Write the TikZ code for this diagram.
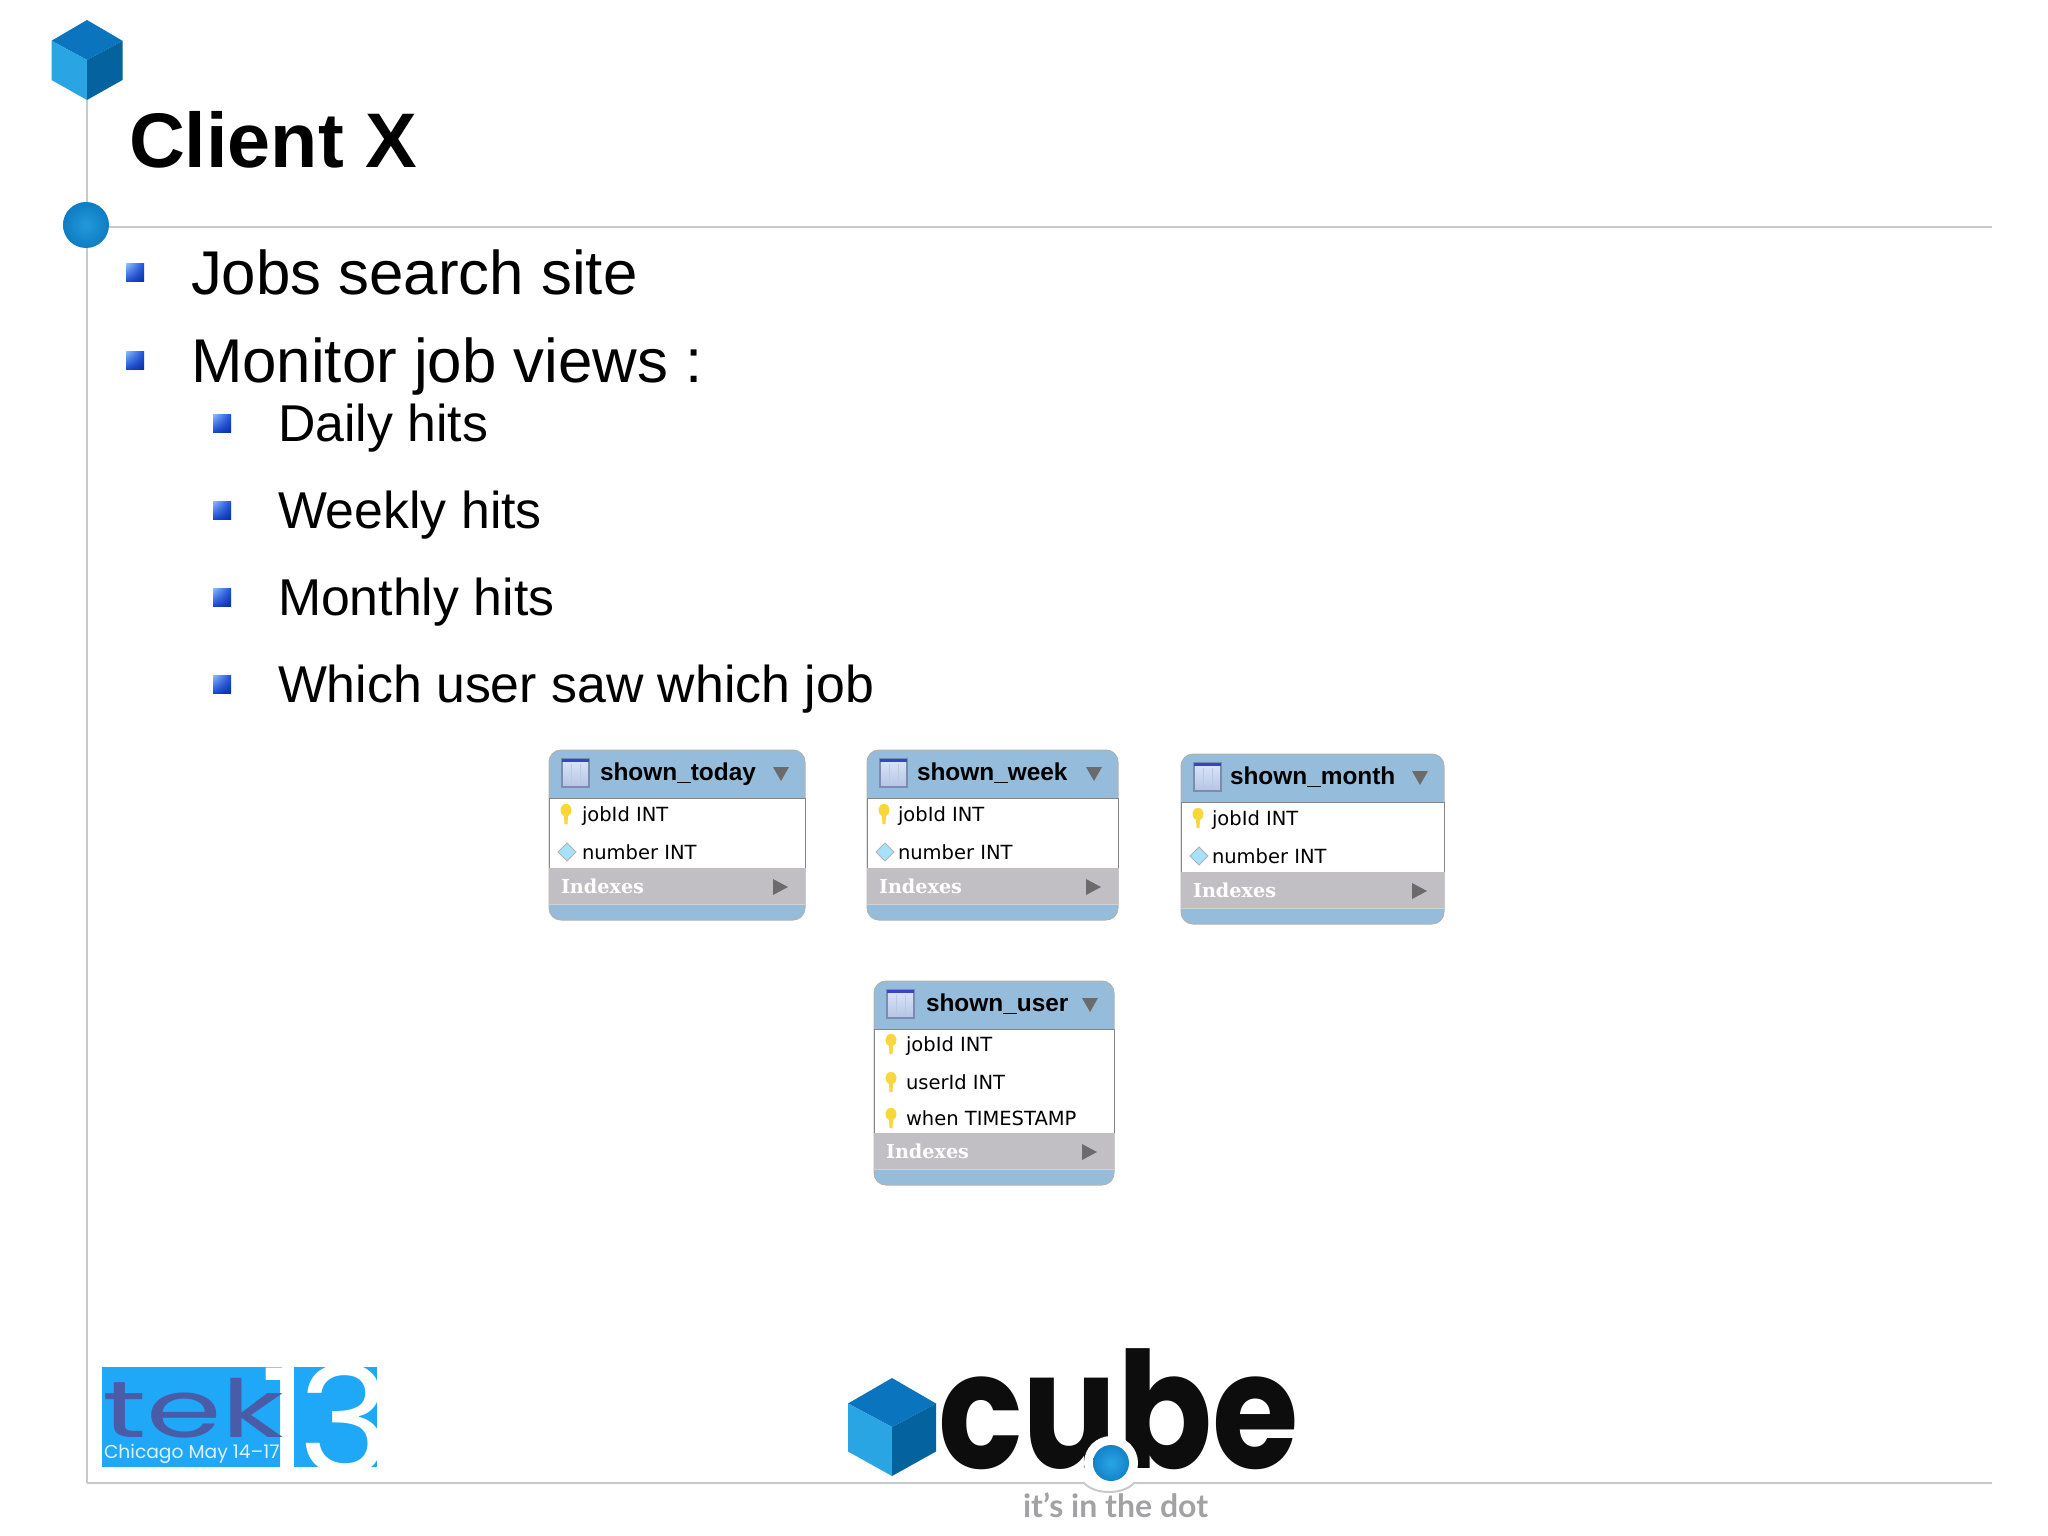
\documentclass[tikz,border=0pt]{standalone}
\usepackage{fontspec}
\usepackage{graphicx}
\usetikzlibrary{shadings}
\setmainfont{Liberation Sans}
\newfontfamily\dvsans{DejaVu Sans}
\newfontfamily\dvserif{DejaVu Serif}
\newfontfamily\popp{Poppins}
\newfontfamily\latof{Lato}
\definecolor{rule}{HTML}{C9C9C9}
\definecolor{hdr}{HTML}{95BCDA}
\definecolor{grayband}{HTML}{C1BFC3}
\definecolor{tri}{HTML}{6B6B6B}
\definecolor{keyy}{HTML}{F9D63A}
\definecolor{cubeT}{HTML}{0A75BE}
\definecolor{cubeL}{HTML}{2AA5E3}
\definecolor{cubeR}{HTML}{04639F}
\definecolor{tekbg}{HTML}{1FA8F7}
\definecolor{tekfg}{HTML}{4A5BA8}
\definecolor{tagg}{HTML}{A2A2A4}
\definecolor{bulA}{HTML}{8FC0FA}
\definecolor{bulB}{HTML}{1A50E0}
\definecolor{bulC}{HTML}{1648D8}
\definecolor{bulD}{HTML}{0A2FA0}
\definecolor{icoT}{HTML}{DCE6F8}
\definecolor{icoB}{HTML}{B4C4E4}
\definecolor{icoE}{HTML}{7C8CB0}
\definecolor{icoC}{HTML}{BBC8E2}
\definecolor{icoH}{HTML}{3346C4}
\definecolor{bodyE}{HTML}{858585}
\tikzset{
  txt/.style={inner sep=0pt,outer sep=0pt,anchor=base west},
  rulel/.style={draw=rule,line width=1pt},
  h1/.style={txt,font=\fontsize{38.7}{44}\selectfont\bfseries},
  l1/.style={txt,font=\fontsize{30.9}{36}\selectfont},
  l2/.style={txt,font=\fontsize{25.9}{30}\selectfont},
  ertitle/.style={txt,font=\fontsize{12.2}{14}\selectfont\bfseries,text=black},
  errowt/.style={txt,font=\dvsans\fontsize{9.75}{11}\selectfont,text=black},
  erindex/.style={txt,font=\dvserif\fontsize{9.6}{11}\selectfont\bfseries,text=white}
}
\newcommand\cubeicon[4]{% cx, top, halfw, h
  \begin{scope}[shift={(#1,#2)},xscale=#3,yscale=#4]
    \fill[cubeT] (0,0) -- (1,.26) -- (0,.5) -- (-1,.26) -- cycle;
    \fill[cubeL] (-1,.26) -- (0,.5) -- (0,1) -- (-1,.75) -- cycle;
    \fill[cubeR] (1,.26) -- (0,.5) -- (0,1) -- (1,.75) -- cycle;
  \end{scope}}
\newcommand\bulletsq[2]{%
  \shade[upper left=bulA,upper right=bulB,lower left=bulC,lower right=bulD]
    (#1-9,#2-9) rectangle (#1+9,#2+9);}
\newcommand\ertable[5]{% id, w, bodyh, titlex, title
  \fill[hdr,draw=gray!60,line width=.5pt,rounded corners=6pt] (0,0) rectangle (#2,#3+48+36+16);
  \fill[white] (0,48) rectangle (#2,48+#3);
  \fill[grayband] (0,48+#3) rectangle (#2,48+#3+36);
  \draw[bodyE,line width=.5pt] (0,48) -- (#2,48) (0,48) -- (0,48+#3) (#2,48) -- (#2,48+#3);
  \draw[gray!50,line width=.5pt] (0,48+#3) -- (#2,48+#3);
  \draw[gray!35,line width=.5pt] (0,48+#3+36) -- (#2,48+#3+36);
  \shade[top color=icoT,bottom color=icoB,draw=icoE,line width=.6pt] (13,9) rectangle (40,37);
  \fill[icoH] (13,9) rectangle (40,12);
  \draw[icoC,line width=.5pt] (22,14) -- (22,36) (31,14) -- (31,36);
  \node[ertitle] (#1title) at (#4,30) {#5};
  \fill[tri] (#2-32,17) -- (#2-16,17) -- (#2-24,31) -- cycle;
  \node[erindex] (#1index) at (12,48+#3+25) {Indexes};
  \fill[tri] (#2-32,48+#3+11) -- (#2-17,48+#3+19) -- (#2-32,48+#3+27) -- cycle;
}
\newcommand\erkey[1]{%
  \fill[keyy] (17,#1-17) .. controls (10,#1-17) and (10,#1-7) .. (15,#1-5) -- (15.5,#1+3) -- (18.5,#1+3) -- (19,#1-5) .. controls (24,#1-7) and (24,#1-17) .. (17,#1-17) -- cycle;}
\newcommand\erdiam[1]{%
  \fill[cyan!35!white,draw=gray!60,line width=.4pt] (18,#1-16) -- (27,#1-7) -- (18,#1+2) -- (9,#1-7) -- cycle;}
\begin{document}
\begin{tikzpicture}[x=.5pt,y=-.5pt]
\useasboundingbox (0,0) rectangle (2048,1535);
\fill[white] (0,0) rectangle (2048,1535);
% rules
\coordinate (vt) at (87,100);
\coordinate (vb) at (87,1483);
\coordinate (ht) at (87,227);
\coordinate (hr) at (1992,227);
\coordinate (br) at (1992,1483);
\coordinate (n1) at (1084,1483);
\coordinate (n2) at (1134,1483);
\draw[rulel] (vt) -- (vb);
\draw[rulel] (ht) -- (hr);
\cubeicon{87}{20}{35.5}{80}
\shade[inner color=cubeL!75!cubeT,outer color=cubeT!85!cubeL] (86,225) circle (23);
\node[h1] (title) at (129,168) {Client X};
% bullets and text
\bulletsq{135}{273}\bulletsq{135}{360}
\bulletsq{222}{423}\bulletsq{222}{510}\bulletsq{222}{597}\bulletsq{222}{684}
\node[l1] (a1) at (191,295) {Jobs search site};
\node[l1] (a2) at (191,382) {Monitor job views :};
\node[l2] (b1) at (278,441) {Daily hits};
\node[l2] (b2) at (278,528) {Weekly hits};
\node[l2] (b3) at (278,615) {Monthly hits};
\node[l2] (b4) at (278,702) {Which user saw which job};
% tables
\begin{scope}[shift={(549,750)}]
  \ertable{today}{256}{70}{51}{shown\_today}
  \erkey{71}\node[errowt] (t1) at (33,71) {jobId INT};
  \erdiam{109}\node[errowt] (t2) at (33,109) {number INT};
\end{scope}
\begin{scope}[shift={(867,750)}]
  \ertable{week}{251}{70}{50}{shown\_week}
  \erkey{71}\node[errowt] (w1) at (31,71) {jobId INT};
  \erdiam{109}\node[errowt] (w2) at (31,109) {number INT};
\end{scope}
\begin{scope}[shift={(1181,754)}]
  \ertable{month}{263}{70}{49}{shown\_month}
  \erkey{71}\node[errowt] (m1) at (31,71) {jobId INT};
  \erdiam{109}\node[errowt] (m2) at (31,109) {number INT};
\end{scope}
\begin{scope}[shift={(874,981)}]
  \ertable{user}{240}{104}{52}{shown\_user}
  \erkey{70}\node[errowt] (u1) at (32,70) {jobId INT};
  \erkey{108}\node[errowt] (u2) at (32,108) {userId INT};
  \erkey{144}\node[errowt] (u3) at (32,144) {when TIMESTAMP};
\end{scope}
% tek13 logo
\fill[tekbg] (102,1367) rectangle (282,1467);
\fill[tekbg] (294,1367) rectangle (377,1467);
\begin{scope}
  \clip (255,1360) rectangle (377,1467);
  \node[txt,anchor=base east,font=\popp\fontsize{75}{80}\selectfont,text=white] (one) at (308,1476) {1};
  \node[txt,font=\popp\fontsize{75}{80}\selectfont,text=white] (three) at (298,1474) {\scalebox{1.05}[1]{3}};
\end{scope}
\node[txt,font=\popp\fontsize{40}{44}\selectfont,text=tekfg] (tek) at (102,1437) {\scalebox{1.52}[1]{tek}};
\node[txt,font=\popp\fontsize{9.35}{12}\selectfont,text=white!85!tekbg] (chi) at (104,1458) {Chicago May 14–17};
% cube logo
\cubeicon{892}{1378}{44}{98}
\node[txt,font=\popp\bfseries\fontsize{81}{90}\selectfont,text=black!95] (cube) at (938,1468) {\scalebox{.865}[1]{cube}};
\fill[white] (1111,1463) circle (27);
\shade[inner color=cubeL,outer color=cubeT!70!cubeL] (1111,1463) circle (18);
\draw[rulel] (vb) -- (n1) .. controls (1095,1495) and (1123,1495) .. (n2) -- (br);
\node[txt,font=\latof\bfseries\fontsize{16}{20}\selectfont,text=tagg] (tag) at (1023,1517) {it’s in the dot};
\end{tikzpicture}
\end{document}
